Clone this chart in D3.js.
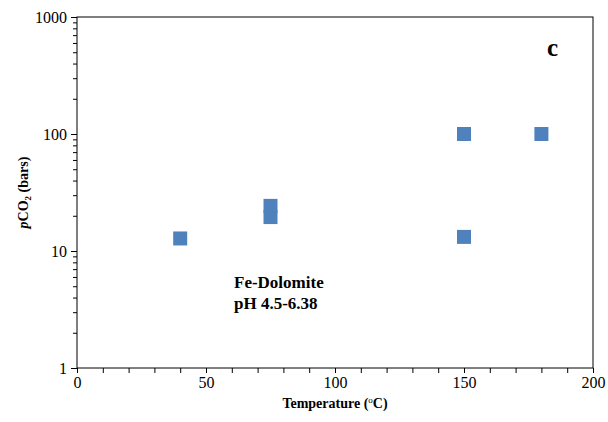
<!DOCTYPE html>
<html><head><meta charset="utf-8">
<script src="https://cdn.jsdelivr.net/npm/d3@7"></script>
<style>body{margin:0;background:#fff}svg{display:block}svg text{font-family:"Liberation Serif","Times New Roman",serif !important}</style>
</head><body><svg id="c" width="608" height="422"></svg>
<script>
const temps = [40, 75, 75, 150, 150, 180];
const pco2 = [12.8, 19.5, 24.3, 100, 13.2, 100];
const xTicks = [0, 50, 100, 150, 200];
const yTicks = [1, 10, 100, 1000];

const svg = d3.select("#c");
const m = {l:77, r:593, t:17, b:368};
const x = d3.scaleLinear().domain([0,200]).range([m.l, m.r]);
const y = d3.scaleLog().domain([1,1000]).range([m.b, m.t]);
const serif = '"Liberation Serif","Times New Roman",serif';

// frame
svg.append("rect").attr("x", m.l).attr("y", m.t).attr("width", m.r-m.l).attr("height", m.b-m.t)
  .attr("fill","none").attr("stroke","#000").attr("stroke-width",1);

// x axis
const xa = svg.append("g").attr("transform",`translate(0,${m.b})`)
  .call(d3.axisBottom(x).tickValues(d3.range(0,201,10)).tickSize(5).tickFormat(d => xTicks.includes(d) ? d : ""));
xa.attr("font-family", serif);
xa.select(".domain").remove();
xa.selectAll("text").attr("font-size",16).attr("y",9).attr("dy","0.71em").attr("fill","#000");

// y axis
const minors = [];
for (let d=1; d<1000; d*=10) for (let k=2;k<10;k++) minors.push(d*k);
const ya = svg.append("g").attr("transform",`translate(${m.l},0)`)
  .call(d3.axisLeft(y).tickValues(yTicks).tickSize(6).tickFormat(d3.format("d")));
ya.attr("font-family", serif);
ya.select(".domain").remove();
ya.selectAll("text").attr("font-size",16).attr("fill","#000").attr("x",-10);
svg.append("g").attr("transform",`translate(${m.l},0)`)
  .call(d3.axisLeft(y).tickValues(minors).tickSize(4).tickFormat(""))
  .select(".domain").remove();

// points
const s = 14;
svg.append("g").selectAll("rect").data(temps.map((t,i)=>({t, p:pco2[i]}))).join("rect")
  .attr("x", d => x(d.t)-s/2).attr("y", d => y(d.p)-s/2)
  .attr("width", s).attr("height", s).attr("fill", "#4f81bd");

// axis titles
const xt = svg.append("text").attr("x", (m.l+m.r)/2).attr("y", 408).attr("text-anchor","middle")
  .attr("font-size",14).attr("font-weight","bold");
xt.append("tspan").text("Temperature (");
xt.append("tspan").text("o").attr("font-size",9).attr("dy",-5).attr("font-weight","normal");
xt.append("tspan").text("C)").attr("dy",5);

const yt = svg.append("text").attr("transform",`translate(28,${(m.t+m.b)/2}) rotate(-90)`)
  .attr("text-anchor","middle").attr("font-size",14).attr("font-weight","bold");
yt.append("tspan").text("p").attr("font-style","italic");
yt.append("tspan").text("CO");
yt.append("tspan").text("2").attr("font-size",9).attr("dy",3);
yt.append("tspan").text(" (bars)").attr("dy",-3);

// annotations
svg.append("text").attr("x",547).attr("y",56).attr("font-size",25).attr("font-weight","bold").text("c");
svg.append("text").attr("x",234).attr("y",288).attr("font-size",17).attr("font-weight","bold").text("Fe-Dolomite");
svg.append("text").attr("x",234).attr("y",309).attr("font-size",17).attr("font-weight","bold").text("pH 4.5-6.38");
</script></body></html>
